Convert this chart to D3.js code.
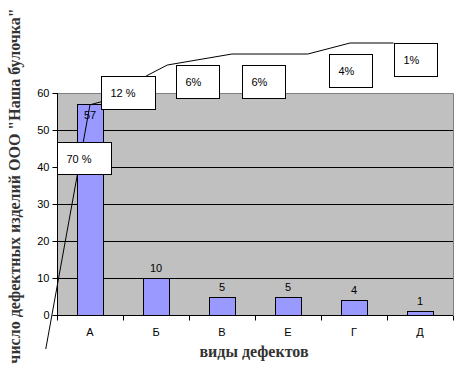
<!DOCTYPE html>
<html><head><meta charset="utf-8">
<script src="https://cdn.jsdelivr.net/npm/d3@7"></script>
<style>body{margin:0;background:#fff}svg{display:block}</style>
</head><body>
<script>
const categories = ["А", "Б", "В", "Е", "Г", "Д"];
const values = [57, 10, 5, 5, 4, 1];
const yTicks = [0, 10, 20, 30, 40, 50, 60];
const shareLabels = ["70 %", "12 %", "6%", "6%", "4%", "1%"];
// freehand cumulative line: position in category units, level in percent
const lineX = [-0.17, 0.5, 0.67, 1.36, 1.67, 2.65, 3.8, 4.44, 5.1];
const lineY = [0, 79.8, 80.8, 89.3, 92.8, 96.4, 96.4, 100, 100];
// label boxes: position in category units and percent level of box top
const boxX = [0.0, 0.67, 1.8, 2.8, 4.12, 5.11];
const boxY = [67.6, 89.2, 92.8, 92.8, 96.4, 100];
const yTitle = "число дефектных изделий ООО \"Наша булочка\"";
const xTitle = "виды дефектов";

const W = 465, H = 376;
const pLeft = 57, pRight = 453, pTop = 93, pBottom = 315;
const svg = d3.select("body").append("svg").attr("width", W).attr("height", H);

const x = d3.scaleBand().domain(categories).range([pLeft, pRight]).paddingInner(0.6).paddingOuter(0.3);
const y = d3.scaleLinear().domain([0, 60]).range([pBottom, pTop]);
const xu = d3.scaleLinear().domain([0, categories.length]).range([pLeft, pRight]);
const y2 = d3.scaleLinear().domain([0, 100]).range([349, 43]);

// plot background
svg.append("rect").attr("x", pLeft).attr("y", pTop).attr("width", pRight - pLeft).attr("height", pBottom - pTop).attr("fill", "#c0c0c0");
svg.append("path").attr("d", `M${pLeft},${pTop + 0.5}H${pRight + 0.5}V${pBottom}`).attr("fill", "none").attr("stroke", "#808080");

// gridlines
svg.append("g").selectAll("line").data(yTicks.filter(t => t > 0 && t < 60)).join("line")
  .attr("x1", pLeft).attr("x2", pRight).attr("y1", d => Math.round(y(d)) + 0.5).attr("y2", d => Math.round(y(d)) + 0.5)
  .attr("stroke", "#000");

// bars
svg.append("g").selectAll("rect").data(values).join("rect")
  .attr("x", (d, i) => Math.round(x(categories[i])) + 0.5)
  .attr("y", d => Math.round(y(d)) + 0.5)
  .attr("width", Math.round(x.bandwidth()))
  .attr("height", d => Math.round(y(0)) - Math.round(y(d)))
  .attr("fill", "#9999ff").attr("stroke", "#000");

// axes
const ya = svg.append("g").attr("transform", `translate(${pLeft + 0.5},0)`)
  .call(d3.axisLeft(y).tickValues(yTicks).tickSize(5).tickPadding(3));
ya.select(".domain").attr("d", `M0,${pTop}V${pBottom + 5}`);
const xa = svg.append("g").attr("transform", `translate(0,${pBottom + 0.5})`)
  .call(d3.axisBottom(xu).tickValues(d3.range(0, categories.length + 1)).tickSize(5).tickFormat(""));
xa.select(".domain").attr("d", `M${pLeft},0H${pRight}`);
svg.selectAll(".tick text").attr("font-family", "Arial, 'Liberation Sans', sans-serif").attr("font-size", 11).attr("fill", "#000");
svg.selectAll(".domain, .tick line").attr("stroke", "#000");

svg.append("g").selectAll("text").data(categories).join("text")
  .attr("x", d => x(d) + x.bandwidth() / 2).attr("y", 336)
  .attr("text-anchor", "middle").attr("font-family", "Arial, 'Liberation Sans', sans-serif").attr("font-size", 11)
  .text(d => d);

// value labels
svg.append("g").selectAll("text").data(values).join("text")
  .attr("x", (d, i) => x(categories[i]) + x.bandwidth() / 2)
  .attr("y", d => (y(d) - 10 < pTop + 5) ? y(d) + 15 : y(d) - 6)
  .attr("text-anchor", "middle").attr("font-family", "Arial, 'Liberation Sans', sans-serif").attr("font-size", 11)
  .attr("fill", "#000").text(d => d);

// cumulative freehand line
svg.append("path").datum(lineX.map((v, i) => [v, lineY[i]]))
  .attr("d", d3.line().x(d => xu(d[0])).y(d => y2(d[1])))
  .attr("fill", "none").attr("stroke", "#000").attr("stroke-width", 1);

// label boxes
const boxes = svg.append("g").selectAll("g").data(shareLabels).join("g")
  .attr("transform", (d, i) => `translate(${Math.round(xu(boxX[i])) + 0.5},${Math.round(y2(boxY[i])) + 0.5})`);
boxes.append("rect").attr("width", (d, i) => i < 2 ? 54 : 43).attr("height", (d, i) => i === 0 ? 32 : 33)
  .attr("fill", "#fff").attr("stroke", "#000");
boxes.append("text").attr("x", 9).attr("y", 20)
  .attr("font-family", "Arial, 'Liberation Sans', sans-serif").attr("font-size", 11).attr("fill", "#000")
  .text(d => d);

// titles
svg.append("text").attr("x", 254).attr("y", 357).attr("text-anchor", "middle")
  .attr("font-family", "'Liberation Serif', 'Times New Roman', serif").attr("font-weight", "bold").attr("font-size", 16)
  .attr("fill", "#333").text(xTitle);
svg.append("text").attr("transform", "translate(20,186) rotate(-90)").attr("text-anchor", "middle")
  .attr("font-family", "'Liberation Serif', 'Times New Roman', serif").attr("font-weight", "bold").attr("font-size", 16)
  .attr("fill", "#333").text(yTitle);
</script>
</body></html>
